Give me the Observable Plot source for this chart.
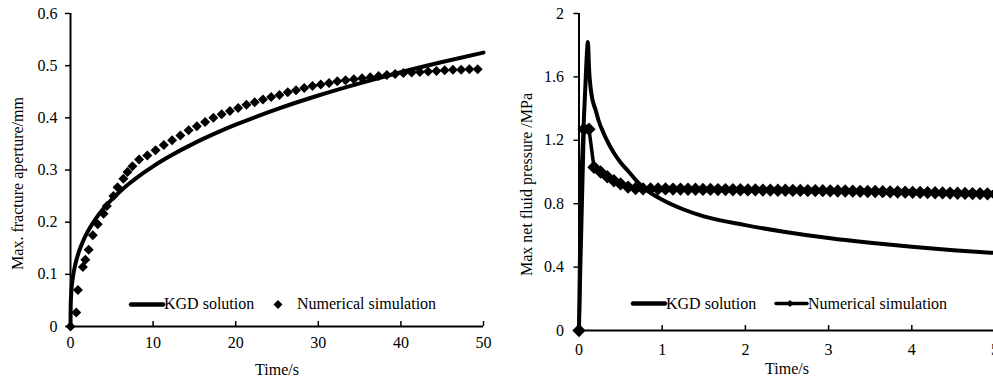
<!DOCTYPE html>
<html><head><meta charset="utf-8">
<script src="https://cdn.jsdelivr.net/npm/d3@7"></script>
<script src="https://cdn.jsdelivr.net/npm/@observablehq/plot@0.6"></script>
<style>
body{margin:0;background:#fff;}
#wrap{position:relative;width:993px;height:380px;overflow:hidden;background:#fff;font-family:"Liberation Serif","Times New Roman",Times,"DejaVu Serif",serif;}
#left,#right{position:absolute;top:0;width:500px;height:380px;}
#left{left:0}
#right{left:500px}
#wrap svg{max-width:none !important;}
.leg{position:absolute;font-size:16px;line-height:16px;white-space:nowrap;color:#000}
.legsvg{position:absolute;overflow:visible}
</style></head><body>
<div id="wrap"><div id="left"></div><div id="right"></div>
<svg class="legsvg" style="left:0;top:0" width="993" height="380" id="legsvg"></svg>
<div class="leg" style="left:164px;top:296px">KGD solution</div>
<div class="leg" style="left:297px;top:296px">Numerical simulation</div>
<div class="leg" style="left:666px;top:296px">KGD solution</div>
<div class="leg" style="left:808px;top:296px">Numerical simulation</div>
</div>
<script>
// ---- Left panel: max fracture aperture (mm) vs time (s)
const kgdApertureTime = [0, 0.02, 0.1, 0.3, 0.6, 1, 1.5, 2, 3, 4, 5, 6, 7, 8, 10, 12, 15, 18, 20, 25, 30, 35, 40, 45, 50];
const kgdAperture     = [0, 0.0387, 0.0661, 0.0954, 0.1202, 0.1425, 0.1631, 0.1795, 0.2055, 0.2262, 0.2437, 0.2589, 0.2726, 0.285, 0.307, 0.3262, 0.3515, 0.3735, 0.3868, 0.4167, 0.4428, 0.4661, 0.4874, 0.5069, 0.525];

const numApertureTime = [0, 0.7, 0.9, 1.5, 1.8, 2.2, 2.7, 3.3, 4.0, 4.4,
  5.2, 5.7, 6.4, 6.9, 7.5, 8.3, 9.3, 10.3, 11.3, 12.3,
  13.3, 14.3, 15.3, 16.3, 17.3, 18.3, 19.3, 20.3, 21.3, 22.3,
  23.3, 24.3, 25.3, 26.3, 27.3, 28.3, 29.3, 30.3, 31.3, 32.3,
  33.3, 34.3, 35.3, 36.3, 37.3, 38.3, 39.3, 40.3, 41.3, 42.3,
  43.3, 44.3, 45.3, 46.3, 47.3, 48.3, 49.3];
const numAperture = [0, 0.027, 0.07, 0.114, 0.128, 0.147, 0.175, 0.196, 0.216, 0.231,
  0.25, 0.267, 0.283, 0.296, 0.307, 0.32, 0.328, 0.338, 0.348, 0.357,
  0.366, 0.376, 0.384, 0.392, 0.4, 0.407, 0.413, 0.419, 0.425, 0.43,
  0.435, 0.44, 0.444, 0.449, 0.453, 0.457, 0.461, 0.464, 0.467, 0.47,
  0.472, 0.474, 0.476, 0.478, 0.48, 0.482, 0.484, 0.486, 0.487, 0.488,
  0.489, 0.49, 0.491, 0.492, 0.492, 0.493, 0.493];

// ---- Right panel: max net fluid pressure (MPa) vs time (s)
const kgdPressureTime = [0, 0.01, 0.02, 0.04, 0.06, 0.08, 0.09, 0.1, 0.105, 0.11,
  0.12, 0.14, 0.16, 0.175, 0.2, 0.235, 0.3, 0.355, 0.42, 0.5,
  0.6, 0.7, 0.8, 0.9, 1, 1.25, 1.5, 2, 2.5, 3,
  3.5, 4, 4.5, 5];
const kgdPressure = [0, 0.4, 0.8, 1.1, 1.35, 1.58, 1.7, 1.79, 1.82, 1.8,
  1.66, 1.53, 1.46, 1.43, 1.39, 1.325, 1.24, 1.18, 1.12, 1.06,
  1.0, 0.94, 0.89, 0.855, 0.825, 0.765, 0.72, 0.665, 0.62, 0.583,
  0.553, 0.528, 0.507, 0.489];

const numPressureTime = [0, 0.06, 0.12, 0.18, 0.26, 0.34, 0.42, 0.5, 0.59, 0.68,
  0.77, 0.86, 0.95, 1.04, 1.13, 1.22, 1.31, 1.4, 1.49, 1.58,
  1.67, 1.76, 1.85, 1.94, 2.03, 2.12, 2.21, 2.3, 2.39, 2.48,
  2.57, 2.66, 2.75, 2.84, 2.93, 3.02, 3.11, 3.2, 3.29, 3.38,
  3.47, 3.56, 3.65, 3.74, 3.83, 3.92, 4.01, 4.1, 4.19, 4.28,
  4.37, 4.46, 4.55, 4.64, 4.73, 4.82, 4.91, 5.0];
const numPressure = [0, 1.27, 1.27, 1.03, 1.0, 0.97, 0.945, 0.925, 0.905, 0.896,
  0.893, 0.893, 0.893, 0.893, 0.892, 0.892, 0.891, 0.891, 0.89, 0.89,
  0.889, 0.889, 0.888, 0.888, 0.887, 0.887, 0.886, 0.886, 0.885, 0.885,
  0.884, 0.884, 0.883, 0.883, 0.882, 0.881, 0.88, 0.88, 0.879, 0.878,
  0.877, 0.877, 0.876, 0.875, 0.874, 0.873, 0.872, 0.871, 0.87, 0.869,
  0.868, 0.867, 0.866, 0.865, 0.864, 0.863, 0.862, 0.861];

const leftXTicks = [0, 10, 20, 30, 40, 50];
const leftYTicks = [0, 0.1, 0.2, 0.3, 0.4, 0.5, 0.6];
const rightXTicks = [0, 1, 2, 3, 4, 5];
const rightYTicks = [0, 0.4, 0.8, 1.2, 1.6, 2];

const titles = {
  leftY: "Max. fracture aperture/mm",
  rightY: "Max net fluid pressure /MPa",
  x: "Time/s"
};

const zip = (xs, ys) => xs.map((x, i) => ({x, y: ys[i]}));
const kgdA = zip(kgdApertureTime, kgdAperture);
const numA = zip(numApertureTime, numAperture);
const kgdP = zip(kgdPressureTime, kgdPressure);
const numP = zip(numPressureTime, numPressure);

const font = "'Liberation Serif', 'Times New Roman', Times, 'DejaVu Serif', serif";
const style = {fontFamily: font, fontSize: "16px", color: "#000", background: "transparent", overflow: "visible", maxWidth: "none"};
const fmt = d => String(d);

const left = Plot.plot({
  width: 500, height: 380,
  marginLeft: 70, marginRight: 17, marginTop: 13, marginBottom: 54,
  style,
  x: {domain: [0, 50]},
  y: {domain: [0, 0.6]},
  marks: [
    Plot.axisX({ticks: leftXTicks, tickFormat: fmt, tickSize: -5, tickPadding: 15.5, label: null, strokeWidth: 1.5, fontSize: 16, fontFamily: font}),
    Plot.axisY({ticks: leftYTicks, tickFormat: fmt, tickSize: 5, tickPadding: 8, label: null, strokeWidth: 1.5, fontSize: 16, fontFamily: font}),
    Plot.line(kgdA, {x: "x", y: "y", stroke: "#000", strokeWidth: 4, curve: "monotone-x"}),
    Plot.dot(numA, {x: "x", y: "y", symbol: "diamond2", r: 4.5, fill: "#000", stroke: "none"}),
    Plot.ruleX([0], {stroke: "#000", strokeWidth: 2}),
    Plot.ruleY([0], {stroke: "#000", strokeWidth: 2}),
    Plot.text([titles.x], {frameAnchor: "bottom", dy: 43, textAnchor: "middle", lineAnchor: "middle", fontSize: 16, fontFamily: font, fill: "#000"}),
    Plot.text([titles.leftY], {frameAnchor: "left", dx: -53, dy: 13.5, rotate: -90, textAnchor: "middle", lineAnchor: "middle", fontSize: 16, fontFamily: font, fill: "#000"})
  ]
});
document.getElementById("left").appendChild(left);

const right = Plot.plot({
  width: 500, height: 380,
  marginLeft: 78.5, marginRight: 5.5, marginTop: 13, marginBottom: 50,
  style,
  x: {domain: [0, 5]},
  y: {domain: [0, 2]},
  marks: [
    Plot.axisX({ticks: rightXTicks, tickFormat: fmt, tickSize: -5, tickPadding: 18.5, label: null, strokeWidth: 1.5, fontSize: 16, fontFamily: font}),
    Plot.axisY({ticks: rightYTicks, tickFormat: fmt, tickSize: 5, tickPadding: 10, label: null, strokeWidth: 1.5, fontSize: 16, fontFamily: font}),
    Plot.line(kgdP, {x: "x", y: "y", stroke: "#000", strokeWidth: 4, curve: "monotone-x"}),
    Plot.line(numP, {x: "x", y: "y", stroke: "#000", strokeWidth: 3.5}),
    Plot.dot(numP, {x: "x", y: "y", symbol: "diamond2", r: 6, fill: "#000", stroke: "none"}),
    Plot.ruleX([0], {stroke: "#000", strokeWidth: 2}),
    Plot.ruleY([0], {stroke: "#000", strokeWidth: 2}),
    Plot.text([titles.x], {frameAnchor: "bottom", dy: 38, textAnchor: "middle", lineAnchor: "middle", fontSize: 16, fontFamily: font, fill: "#000"}),
    Plot.text([titles.rightY], {frameAnchor: "left", dx: -52.5, dy: 12.5, rotate: -90, textAnchor: "middle", lineAnchor: "middle", fontSize: 16, fontFamily: font, fill: "#000"})
  ]
});
document.getElementById("right").appendChild(right);

// legend glyphs
const lg = d3.select("#legsvg");
const diamond = (cx, cy, h) => `${cx},${cy - h} ${cx + h},${cy} ${cx},${cy + h} ${cx - h},${cy}`;
lg.append("line").attr("x1", 131).attr("x2", 163).attr("y1", 304.5).attr("y2", 304.5).attr("stroke", "#000").attr("stroke-width", 4.5).attr("stroke-linecap", "round");
lg.append("polygon").attr("points", diamond(278, 304.5, 4.5)).attr("fill", "#000");
lg.append("line").attr("x1", 633).attr("x2", 665).attr("y1", 303.5).attr("y2", 303.5).attr("stroke", "#000").attr("stroke-width", 4.5).attr("stroke-linecap", "round");
lg.append("line").attr("x1", 776).attr("x2", 807).attr("y1", 303.5).attr("y2", 303.5).attr("stroke", "#000").attr("stroke-width", 3.5).attr("stroke-linecap", "round");
lg.append("polygon").attr("points", diamond(790, 303.5, 3.5)).attr("fill", "#000");
</script>
</body></html>
